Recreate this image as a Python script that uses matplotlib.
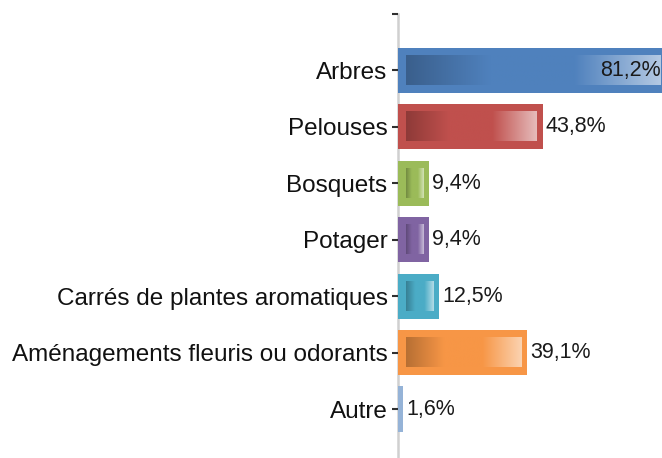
import numpy as np
import matplotlib
matplotlib.use("Agg")
import matplotlib.pyplot as plt
from matplotlib.colors import to_rgb

plt.rcParams["font.family"] = ["Liberation Sans", "DejaVu Sans"]

categories = ["Arbres", "Pelouses", "Bosquets", "Potager",
              "Carrés de plantes aromatiques",
              "Aménagements fleuris ou odorants", "Autre"]
values = [81.2, 43.8, 9.4, 9.4, 12.5, 39.1, 1.6]
labels = ["81,2%", "43,8%", "9,4%", "9,4%", "12,5%", "39,1%", "1,6%"]

# couleur principale, foncée, claire (style Excel 2007)
main_colors = ["#4F81BD", "#C0504D", "#9BBB59", "#8064A2", "#4BACC6", "#F79646", "#95B3D7"]
dark_colors = ["#3A5F8C", "#8E3A38", "#728A41", "#5F4A78", "#377F93", "#B76F33", "#95B3D7"]
light_colors = ["#B4C9E3", "#E6BCBB", "#D3E2B6", "#C9BDD8", "#B4DCE7", "#FBD3B1", "#95B3D7"]


def gradient(dark, main, light, n=256):
    stops = [0.0, 0.33, 0.66, 1.0]
    cols = np.array([to_rgb(dark), to_rgb(main), to_rgb(main), to_rgb(light)])
    t = np.linspace(0, 1, n)
    img = np.stack([np.interp(t, stops, cols[:, k]) for k in range(3)], axis=-1)
    return img[np.newaxis, :, :]


fig = plt.figure(figsize=(6.62, 4.58), dpi=100)
ax = fig.add_axes([398 / 662, 0, 1 - 398 / 662, 1 - 14 / 458])

pos = np.arange(len(categories))
xmax = 80.0
bar_h = 0.8

ax.barh(pos, values, height=bar_h, color=main_colors, edgecolor="none", zorder=2)

# dégradé intérieur
for p, v, d, m, l in zip(pos, values, dark_colors, main_colors, light_colors):
    x0, x1 = 2.4, v - 1.8
    if x1 - x0 < 1:
        continue
    hh = bar_h / 2 - 0.142
    ax.imshow(gradient(d, m, l), extent=(x0, x1, p + hh, p - hh),
              aspect="auto", interpolation="bilinear", zorder=3)

for p, v, lab in zip(pos, values, labels):
    if v + 6 > xmax:
        ax.text(xmax - 0.4, p, lab, ha="right", va="center", fontsize=15.5,
                color="#1a1a1a", zorder=5)
    else:
        ax.text(v + 1.0, p, lab, ha="left", va="center", fontsize=15.5,
                color="#1a1a1a", zorder=5)

ax.set_xlim(0, xmax)
ax.set_ylim((458 - 14) / 56.43 - 1, -1)
ax.set_yticks([-1] + list(pos))
ax.set_yticklabels([""] + categories, fontsize=17.5, color="#111111")
ax.tick_params(axis="y", length=4.5, width=1.5, color="#303030", pad=3)
ax.set_xticks([])

for s in ["top", "right", "bottom"]:
    ax.spines[s].set_visible(False)
ax.spines["left"].set_color("#d0d0d0")
ax.spines["left"].set_linewidth(1.8)
ax.spines["left"].set_zorder(1)

plt.savefig("out.png", dpi=100)
plt.close()
